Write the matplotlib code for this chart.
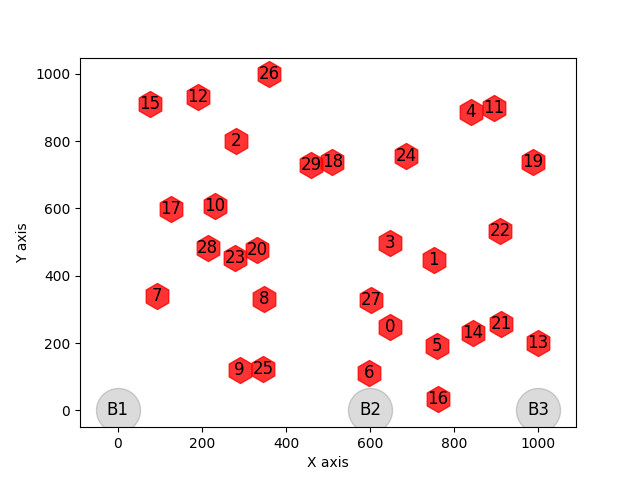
import matplotlib
matplotlib.use('Agg')
import matplotlib.pyplot as plt

# node positions (index = node id)
node_x = [648, 752, 281, 648, 840, 760, 598, 93, 348, 290,
          231, 895, 190, 1000, 845, 76, 762, 126, 510, 988,
          331, 912, 910, 279, 686, 345, 360, 602, 214, 460]
node_y = [247, 446, 800, 497, 887, 190, 110, 339, 330, 119,
          607, 899, 932, 199, 229, 911, 33, 598, 738, 738,
          476, 256, 533, 452, 756, 122, 1000, 327, 482, 729]

# base stations
base_x = [0, 600, 1000]
base_y = [0, 0, 0]
base_labels = ['B1', 'B2', 'B3']

fig, ax = plt.subplots(figsize=(6.4, 4.8), dpi=100)

ax.scatter(base_x, base_y, s=1000, marker='o', color='lightgray', alpha=0.8,
           edgecolors='#bbbbbb', linewidths=1, zorder=1)
for bx, by, lab in zip(base_x, base_y, base_labels):
    ax.text(bx, by, lab, ha='center', va='center', fontsize=12, zorder=3)

ax.scatter(node_x, node_y, s=350, marker='h', color='red', alpha=0.8, zorder=2)
for i, (nx, ny) in enumerate(zip(node_x, node_y)):
    ax.text(nx, ny, str(i), ha='center', va='center', fontsize=12, zorder=3)

ax.set_xlim(-90, 1090)
ax.set_ylim(-50, 1048)
ax.set_xlabel('X axis')
ax.set_ylabel('Y axis')

plt.savefig('out.png', dpi=100)
